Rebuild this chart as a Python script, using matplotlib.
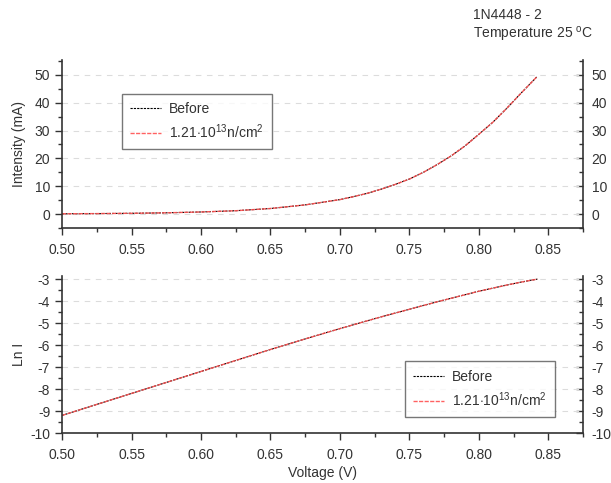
import matplotlib
matplotlib.use('Agg')
import matplotlib.pyplot as plt
from matplotlib.ticker import MultipleLocator

plt.rcParams['font.family'] = ['Liberation Sans', 'DejaVu Sans']
plt.rcParams['mathtext.fontset'] = 'custom'
plt.rcParams['mathtext.rm'] = 'Liberation Sans'
plt.rcParams['mathtext.it'] = 'Liberation Sans'
plt.rcParams['axes.unicode_minus'] = False

# 1N4448 forward characteristic, before and after irradiation
voltage = [0.50, 0.525, 0.55, 0.575, 0.60, 0.625, 0.65, 0.675, 0.70,
           0.71, 0.72, 0.73, 0.74, 0.75, 0.76, 0.77, 0.78, 0.79, 0.80,
           0.81, 0.82, 0.83, 0.842]
before_ma = [0.10, 0.17, 0.27, 0.45, 0.75, 1.2, 2.0, 3.3, 5.2,
             6.3, 7.5, 9.0, 10.7, 12.6, 15.0, 17.8, 20.9, 24.5, 28.7,
             33.0, 38.0, 43.3, 49.5]
after_ma = [0.10, 0.17, 0.27, 0.45, 0.75, 1.2, 2.0, 3.3, 5.2,
            6.3, 7.5, 9.0, 10.7, 12.6, 15.0, 17.8, 20.9, 24.5, 28.7,
            33.0, 38.0, 43.3, 49.5]
before_ln = [-9.2, -8.7, -8.2, -7.7, -7.2, -6.7, -6.2, -5.72, -5.25,
             -5.07, -4.89, -4.71, -4.54, -4.37, -4.20, -4.03, -3.87, -3.71, -3.55,
             -3.41, -3.27, -3.14, -3.0]
after_ln = [-9.2, -8.7, -8.2, -7.7, -7.2, -6.7, -6.2, -5.72, -5.25,
            -5.07, -4.89, -4.71, -4.54, -4.37, -4.20, -4.03, -3.87, -3.71, -3.55,
            -3.41, -3.27, -3.14, -3.0]

label_before = 'Before'
label_after = r'1.21$\cdot$10$^{13}$n/cm$^{2}$'

fig = plt.figure(figsize=(6.11, 4.83), dpi=100)
ax1 = fig.add_axes([0.1015, 0.528, 0.853, 0.348])
ax2 = fig.add_axes([0.1015, 0.1035, 0.853, 0.325])

ink = '#333333'


def style_axes(ax, ylim, major, minor):
    ax.set_xlim(0.5, 0.875)
    ax.set_ylim(*ylim)
    ax.xaxis.set_major_locator(MultipleLocator(0.05))
    ax.xaxis.set_minor_locator(MultipleLocator(0.025))
    ax.yaxis.set_major_locator(MultipleLocator(major))
    ax.yaxis.set_minor_locator(MultipleLocator(minor))
    ax.xaxis.set_major_formatter(lambda v, p: f'{v:.2f}')
    ax.spines['top'].set_visible(False)
    ax.spines['right'].set_visible(False)
    for s in ('left', 'bottom'):
        ax.spines[s].set_color(ink)
        ax.spines[s].set_linewidth(1.2)
    ax.tick_params(axis='both', which='both', colors=ink, labelcolor=ink,
                   labelsize=10, width=1.0, direction='out')
    ax.tick_params(axis='both', which='major', length=5)
    ax.tick_params(axis='both', which='minor', length=3)
    ax.tick_params(axis='x', which='both', pad=6)
    ax.grid(axis='y', which='major', color='#dcdcdc', linestyle=(0, (5, 5)),
            linewidth=0.8)

    # right-hand scale with ticks pointing into the frame
    sec = ax.secondary_yaxis('right')
    sec.yaxis.set_major_locator(MultipleLocator(major))
    sec.yaxis.set_minor_locator(MultipleLocator(minor))
    sec.spines['right'].set_color(ink)
    sec.spines['right'].set_linewidth(1.2)
    sec.tick_params(axis='y', which='both', direction='in', colors=ink,
                    labelcolor=ink, labelsize=10, width=1.0, pad=6)
    sec.tick_params(axis='y', which='major', length=5)
    sec.tick_params(axis='y', which='minor', length=3)
    ax.yaxis.set_label_coords(-0.07, 0.5)


def draw(ax, x, yb, ya, loc, anchor):
    ax.plot(x, yb, color='black', linestyle=(0, (2, 1)), linewidth=0.8,
            label=label_before)
    ax.plot(x, ya, color='#ff5050', linestyle=(0, (3, 1)), linewidth=1.0,
            alpha=0.9, label=label_after)
    leg = ax.legend(loc=loc, bbox_to_anchor=anchor, fontsize=10,
                    frameon=True, fancybox=False, handlelength=2.2,
                    borderpad=0.6, labelspacing=0.45, handletextpad=0.6,
                    borderaxespad=0)
    leg.get_frame().set_edgecolor('#555555')
    leg.get_frame().set_linewidth(1.0)
    for txt in leg.get_texts():
        txt.set_color(ink)


style_axes(ax1, (-5, 55.4), 10, 5)
style_axes(ax2, (-10, -2.86), 1, 0.5)

draw(ax1, voltage, before_ma, after_ma, 'upper left', (0.115, 0.798))
draw(ax2, voltage, before_ln, after_ln, 'lower left', (0.658, 0.102))

ax1.set_ylabel('Intensity (mA)', fontsize=10, color=ink)
ax2.set_ylabel('Ln I', fontsize=10, color=ink)
ax2.set_xlabel('Voltage (V)', fontsize=10, color=ink, labelpad=3)

fig.text(0.774, 0.969, '1N4448 - 2', fontsize=10, color=ink, va='center')
fig.text(0.774, 0.928, 'Temperature 25 $^{o}$C', fontsize=10, color=ink,
         va='center')

fig.savefig('out.png', dpi=100)
